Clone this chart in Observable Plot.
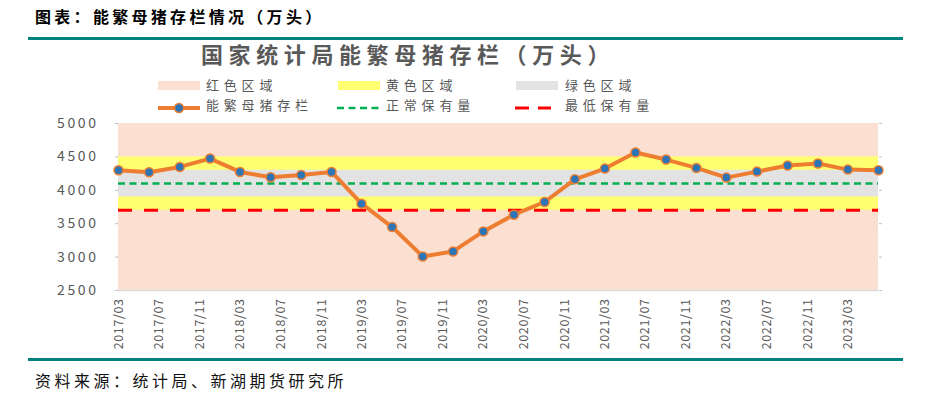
<!DOCTYPE html>
<html>
<head>
<meta charset="utf-8">
<script src="https://cdn.jsdelivr.net/npm/d3@7"></script>
<script src="https://cdn.jsdelivr.net/npm/@observablehq/plot@0.6"></script>
<style>
  html, body { margin: 0; padding: 0; background: #fff; }
  #page { position: relative; width: 932px; height: 398px; overflow: hidden; font-family: "Noto Sans CJK SC", sans-serif; }
  .abs { position: absolute; white-space: nowrap; }
  #header { left: 35px; top: 4px; font-size: 16px; font-weight: 700; letter-spacing: 3.3px; color: #000; line-height: 24px; }
  .rule { position: absolute; left: 28px; width: 875px; height: 3px; background: #00827F; }
  #ctitle { left: 201px; top: 39px; font-size: 22px; font-weight: 700; letter-spacing: 5.6px; color: #595959; line-height: 28px; }
  .lg { position: absolute; font-size: 13px; letter-spacing: 4.8px; color: #595959; line-height: 16px; white-space: nowrap; }
  .sw { position: absolute; width: 42px; height: 9px; }
  #footer { left: 35px; top: 368px; font-size: 16px; letter-spacing: 3.5px; color: #111; line-height: 24px; }
  #chart { position: absolute; left: 0; top: 110px; }
  #chart g[aria-label="y-axis tick label"] text { letter-spacing: 2.6px; }
  #chart g[aria-label="x-axis tick label"] text { letter-spacing: 0.6px; }
</style>
</head>
<body>
<div id="page">
  <div id="header" class="abs">图表：能繁母猪存栏情况（万头）</div>
  <div class="rule" style="top:37px"></div>
  <div id="ctitle" class="abs">国家统计局能繁母猪存栏（万头）</div>
  <div id="legend"></div>
  <div id="chart"></div>
  <div class="rule" style="top:358px"></div>
  <div id="footer" class="abs">资料来源：统计局、新湖期货研究所</div>
</div>
<script>
// ---- data ----
const periods = ["2017/03","2017/06","2017/09","2017/12","2018/03","2018/06","2018/09","2018/12",
  "2019/03","2019/06","2019/09","2019/12","2020/03","2020/06","2020/09","2020/12",
  "2021/03","2021/06","2021/09","2021/12","2022/03","2022/06","2022/09","2022/12","2023/03","2023/06"];
const sowStock = [4300, 4270, 4350, 4475, 4275, 4195, 4230, 4275,
  3800, 3450, 3010, 3085, 3385, 3635, 3825, 4165,
  4325, 4565, 4460, 4335, 4190, 4280, 4370, 4400, 4310, 4300];
const tickLabels = ["2017/03","2017/07","2017/11","2018/03","2018/07","2018/11","2019/03","2019/07",
  "2019/11","2020/03","2020/07","2020/11","2021/03","2021/07","2021/11","2022/03","2022/07","2022/11","2023/03"];
const yTicks = [2500, 3000, 3500, 4000, 4500, 5000];
const bandNames = ["红色区域", "黄色区域", "绿色区域"];
const bandLow = [2500, 3700, 3900];
const bandHigh = [5000, 4500, 4300];
const normalLevel = 4100;   // 正常保有量
const minLevel = 3700;      // 最低保有量
const seriesName = "能繁母猪存栏";
const normalName = "正常保有量";
const minName = "最低保有量";

// ---- styles ----
const bandColors = ["#FBE0D2", "#FFFF72", "#E3E3E3"];
const lineColor = "#ED7D31", dotColor = "#2E75B6";

const parse = s => { const [y, m] = s.split("/").map(Number); return new Date(Date.UTC(y, m - 1, 1)); };
const series = periods.map((p, i) => ({date: parse(p), value: sowStock[i]}));
const start = series[0].date, end = series[series.length - 1].date;
const bands = bandNames.map((n, i) => ({name: n, low: bandLow[i], high: bandHigh[i], x1: start, x2: end, color: bandColors[i]}));
const tickDates = tickLabels.map(parse);
const labelOf = new Map(tickDates.map((d, i) => [+d, tickLabels[i]]));

const chart = Plot.plot({
  width: 932,
  height: 245,
  marginTop: 13,
  marginBottom: 65,
  marginLeft: 118,
  marginRight: 54,
  style: {fontFamily: "'Noto Sans CJK SC', sans-serif", color: "#595959", background: "transparent"},
  x: {type: "utc", domain: [start, end]},
  y: {domain: [2500, 5000]},
  marks: [
    ...bands.map(b => Plot.rect([b], {x1: "x1", x2: "x2", y1: "low", y2: "high", fill: b.color})),
    Plot.ruleY([2500], {stroke: "#D9D9D9", strokeWidth: 1.5}),
    Plot.ruleY([normalLevel], {stroke: "#00B050", strokeWidth: 2.5, strokeDasharray: "7,4.5"}),
    Plot.ruleY([minLevel], {stroke: "#FF0000", strokeWidth: 3, strokeDasharray: "14,12"}),
    Plot.line(series, {x: "date", y: "value", stroke: lineColor, strokeWidth: 4, curve: "linear"}),
    Plot.dot(series, {x: "date", y: "value", r: 4.5, fill: dotColor, stroke: lineColor, strokeWidth: 1.5}),
    Plot.axisY({ticks: yTicks, tickFormat: d => String(d), tickSize: 3, tickPadding: 17, fontSize: 14, stroke: "#BFBFBF", label: null}),
    Plot.axisY({anchor: "right", ticks: yTicks, tickFormat: () => "", tickSize: 3, stroke: "#BFBFBF", label: null}),
    Plot.axisX({ticks: tickDates, tickFormat: d => labelOf.get(+d), tickRotate: -90, tickSize: 0, tickPadding: 8, fontSize: 12.5, label: null})
  ]
});
document.getElementById("chart").appendChild(chart);

// ---- legend ----
const lg = document.getElementById("legend");
const row1 = 77, row2 = 96.5;
function addText(txt, x, y) {
  const d = document.createElement("div");
  d.className = "lg"; d.textContent = txt; d.style.left = x + "px"; d.style.top = y + "px";
  lg.appendChild(d);
}
const swX = [158, 338, 516], txX = [206, 386, 565];
bandNames.forEach((n, i) => {
  const s = document.createElement("div");
  s.className = "sw"; s.style.left = swX[i] + "px"; s.style.top = (row1 + 3.5) + "px"; s.style.background = bandColors[i];
  lg.appendChild(s);
  addText(n, txX[i], row1);
});
function addSvg(x, y, w, inner) {
  const d = document.createElement("div");
  d.style.position = "absolute"; d.style.left = x + "px"; d.style.top = y + "px";
  d.innerHTML = `<svg width="${w}" height="16">${inner}</svg>`;
  lg.appendChild(d);
}
addSvg(156, row2, 46, `<line x1="2" x2="44" y1="8" y2="8" stroke="${lineColor}" stroke-width="4"/><circle cx="23" cy="8" r="4.5" fill="${dotColor}" stroke="${lineColor}" stroke-width="1.5"/>`);
addText(seriesName, 206, row2);
addSvg(336, row2, 46, `<line x1="1" x2="45" y1="8" y2="8" stroke="#00B050" stroke-width="2.5" stroke-dasharray="7,4.5"/>`);
addText(normalName, 386, row2);
addSvg(514, row2, 40, `<line x1="1" x2="37" y1="8" y2="8" stroke="#FF0000" stroke-width="3" stroke-dasharray="14,9"/>`);
addText(minName, 565, row2);
</script>
</body>
</html>
